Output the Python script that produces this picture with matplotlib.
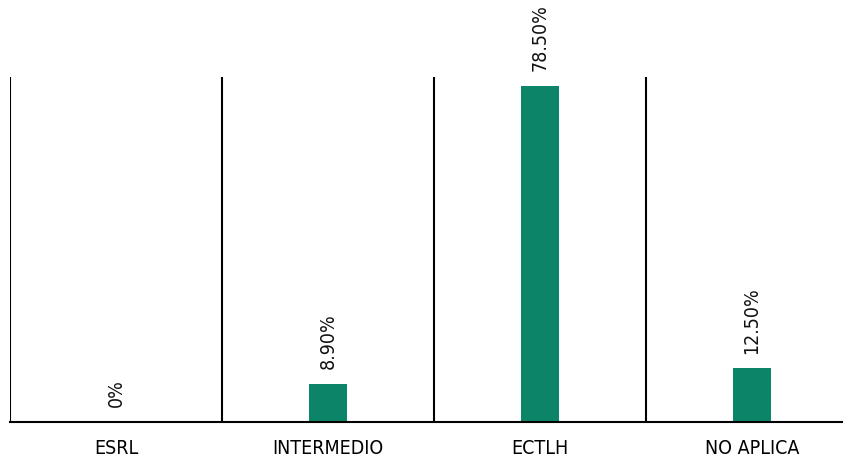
import matplotlib
matplotlib.use('Agg')
import matplotlib.pyplot as plt
from matplotlib import font_manager

# Data
categories = ['ESRL', 'INTERMEDIO', 'ECTLH', 'NO APLICA']
values = [0, 8.9, 78.5, 12.5]
labels = ['0%', '8.90%', '78.50%', '12.50%']

plt.rcParams['font.family'] = ['DejaVu Sans']
plt.rcParams['font.stretch'] = 'condensed'

W, H = 843, 457
fig = plt.figure(figsize=(W / 100, H / 100), dpi=100)
# axes stretch past the right edge, like the original
ax = fig.add_axes([10 / W, (H - 422) / H, 848 / W, 345 / H])

x = list(range(len(categories)))
ax.bar(x, values, width=0.18, color='#0b8468')

for xi, v, lab in zip(x, values, labels):
    ax.text(xi, v + 3.5, lab, rotation=90, ha='center', va='bottom',
            fontsize=14, color='#111111', fontstretch='condensed')

# separators between the categories
for b in [-0.5, 0.5, 1.5, 2.5]:
    ax.axvline(b, color='black', lw=1.5)

ax.set_xlim(-0.5, 3.5)
ax.set_ylim(0, 80.6)
for s in ['top', 'right', 'left']:
    ax.spines[s].set_visible(False)
ax.spines['bottom'].set_linewidth(1.5)
ax.set_yticks([])
ax.set_xticks(x)
ax.set_xticklabels(categories, fontsize=14, fontstretch='condensed')
ax.tick_params(axis='x', length=0, pad=12)

fig.savefig('out.png', dpi=100)
